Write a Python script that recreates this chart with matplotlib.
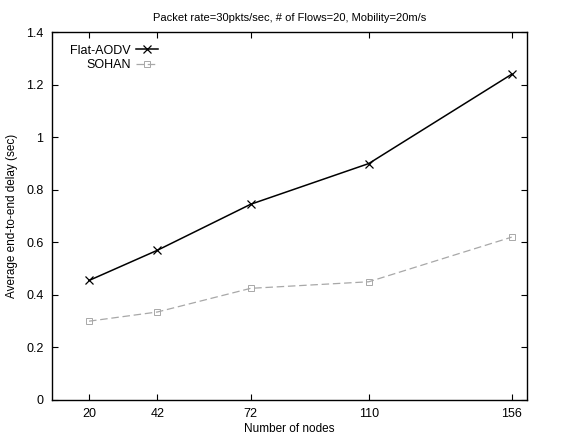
import matplotlib
matplotlib.use("Agg")
import matplotlib.pyplot as plt
from matplotlib.ticker import FuncFormatter

# Average end-to-end delay vs. network size
nodes = [20, 42, 72, 110, 156]
flat_aodv = [0.455, 0.57, 0.745, 0.90, 1.24]
sohan = [0.30, 0.335, 0.425, 0.45, 0.62]

plt.rcParams['font.family'] = ['Liberation Sans', 'DejaVu Sans']

fig = plt.figure(figsize=(5.75, 4.41), dpi=100)
ax = fig.add_axes([0.090, 0.093, 0.827, 0.834])

ax.plot(nodes, flat_aodv, color='black', linewidth=1.1, marker='x',
        markersize=6, markeredgewidth=0.9, label='Flat-AODV')
ax.plot(nodes, sohan, color='#a8a8a8', linewidth=0.9, linestyle=(0, (6, 3)),
        marker='s', markersize=4, markerfacecolor='none',
        markeredgewidth=0.7, label='SOHAN')

ax.set_xlim(8, 161)
ax.set_ylim(0, 1.4)
ax.set_xticks(nodes)
ax.set_yticks([0, 0.2, 0.4, 0.6, 0.8, 1.0, 1.2, 1.4])
ax.yaxis.set_major_formatter(FuncFormatter(lambda v, p: '%g' % v))

ax.tick_params(direction='in', top=True, right=True, length=4,
               width=0.8, labelsize=9, pad=6)
for spine in ax.spines.values():
    spine.set_linewidth(1.0)

ax.set_xlabel('Number of nodes', fontsize=8.5, labelpad=2)
ax.set_ylabel('Average end-to-end delay (sec)', fontsize=8.5, labelpad=6)
ax.set_title('Packet rate=30pkts/sec, # of Flows=20, Mobility=20m/s',
             fontsize=8, pad=8)

ax.legend(loc='upper left', bbox_to_anchor=(0.02, 0.99), frameon=False,
          markerfirst=False, alignment='right', fontsize=9,
          handlelength=1.8, handletextpad=0.4, labelspacing=0.2,
          borderaxespad=0.3)

fig.savefig('out.png', dpi=100)
